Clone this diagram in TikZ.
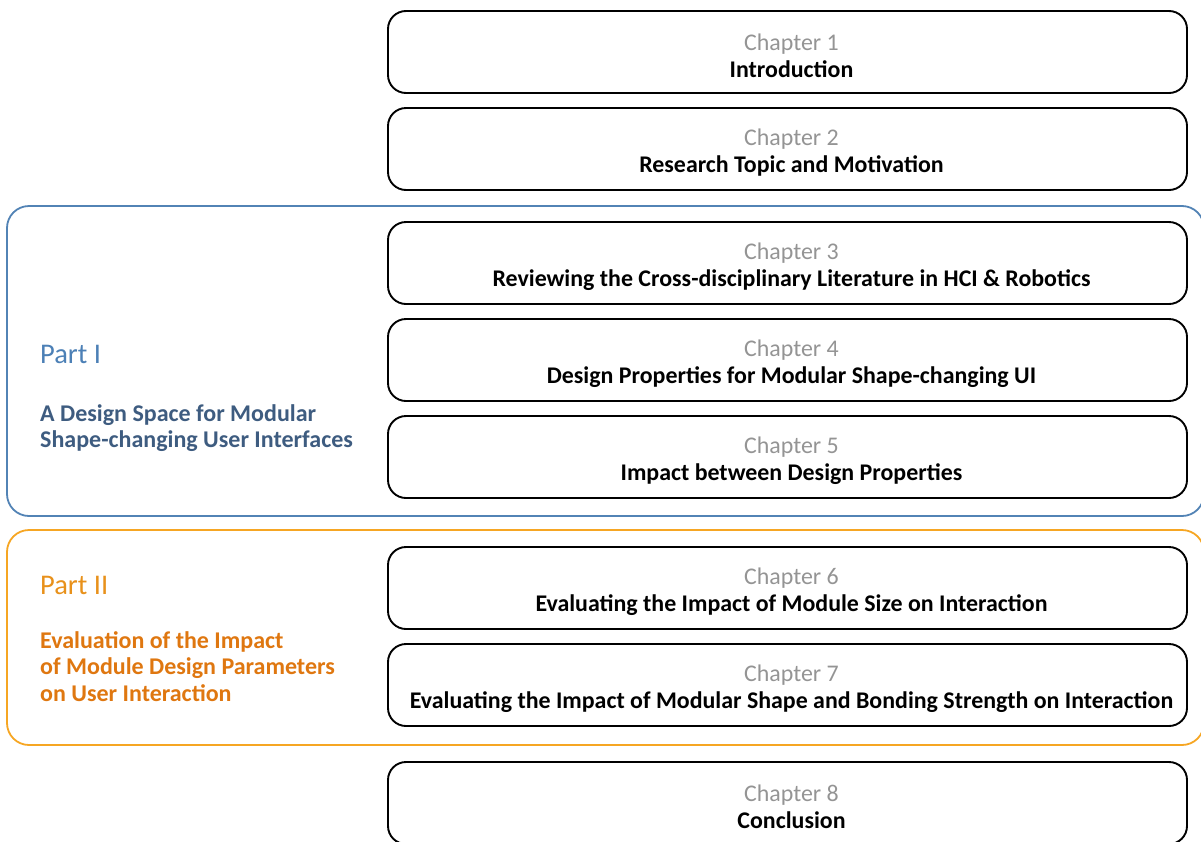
\documentclass[tikz,border=0pt]{standalone}
\usepackage{fontspec}
\setmainfont{Carlito}
\definecolor{blueframe}{HTML}{5283B5}
\definecolor{bluetitle}{HTML}{4C80B6}
\definecolor{bluesub}{HTML}{3E5C80}
\definecolor{orangeframe}{HTML}{F6A623}
\definecolor{orangetitle}{HTML}{E8911B}
\definecolor{orangesub}{HTML}{DF7710}
\definecolor{chapgray}{HTML}{949494}
\tikzset{
  chapbox/.style={draw=black, line width=1.9pt, rounded corners=18pt,
    minimum width=799pt, minimum height=82pt, inner sep=0pt},
  chaptext/.style={inner sep=0pt, align=center, font=\fontsize{23.9}{27}\selectfont},
  frameone/.style={draw=blueframe, line width=1.8pt, rounded corners=22pt},
  frametwo/.style={draw=orangeframe, line width=1.8pt, rounded corners=22pt},
  parttitle/.style={anchor=west, inner sep=0pt, font=\fontsize{28.5}{32}\selectfont},
  partsub/.style={anchor=north west, inner sep=0pt, align=left, font=\fontsize{24}{26.8}\selectfont\bfseries},
}
\newcommand{\chap}[2]{{\color{chapgray}#1}\\{\bfseries #2}}
\begin{document}
\begin{tikzpicture}[x=1pt,y=-1pt]
\useasboundingbox (0,0) rectangle (1201,841);
% frames
\draw[frameone] (7,206) rectangle (1204,516);
\draw[frametwo] (7,530) rectangle (1204,745);
% chapters
\foreach \n/\y in {1/52,2/149,3/263,4/360,5/457,6/588,7/685,8/803}{
  \node[chapbox] (c\n) at (787.5,\y) {};
}
\node[chaptext] (t1) at ([xshift=4pt,yshift=-4pt]c1.center) {\chap{Chapter 1}{Introduction}};
\node[chaptext] (t2) at ([xshift=4pt,yshift=-4pt]c2.center) {\chap{Chapter 2}{Research Topic and Motivation}};
\node[chaptext] (t3) at ([xshift=4pt,yshift=-4pt]c3.center) {\chap{Chapter 3}{Reviewing the Cross-disciplinary Literature in HCI \& Robotics}};
\node[chaptext] (t4) at ([xshift=4pt,yshift=-4pt]c4.center) {\chap{Chapter 4}{Design Properties for Modular Shape-changing UI}};
\node[chaptext] (t5) at ([xshift=4pt,yshift=-4pt]c5.center) {\chap{Chapter 5}{Impact between Design Properties}};
\node[chaptext] (t6) at ([xshift=4pt,yshift=-4pt]c6.center) {\chap{Chapter 6}{Evaluating the Impact of Module Size on Interaction}};
\node[chaptext] (t7) at ([xshift=4pt,yshift=-4pt]c7.center) {\chap{Chapter 7}{Evaluating the Impact of Modular Shape and Bonding Strength on Interaction}};
\node[chaptext] (t8) at ([xshift=4pt,yshift=-4pt]c8.center) {\chap{Chapter 8}{Conclusion}};
% part labels
\node[parttitle, text=bluetitle] (p1) at (40,354) {Part I};
\node[partsub, text=bluesub] (p1s) at (40,404) {A Design Space for Modular\\Shape-changing User Interfaces};
\node[parttitle, text=orangetitle] (p2) at (40,585) {Part II};
\node[partsub, text=orangesub] (p2s) at (40,631) {Evaluation of the Impact\\of Module Design Parameters\\on User Interaction};
\end{tikzpicture}
\end{document}
